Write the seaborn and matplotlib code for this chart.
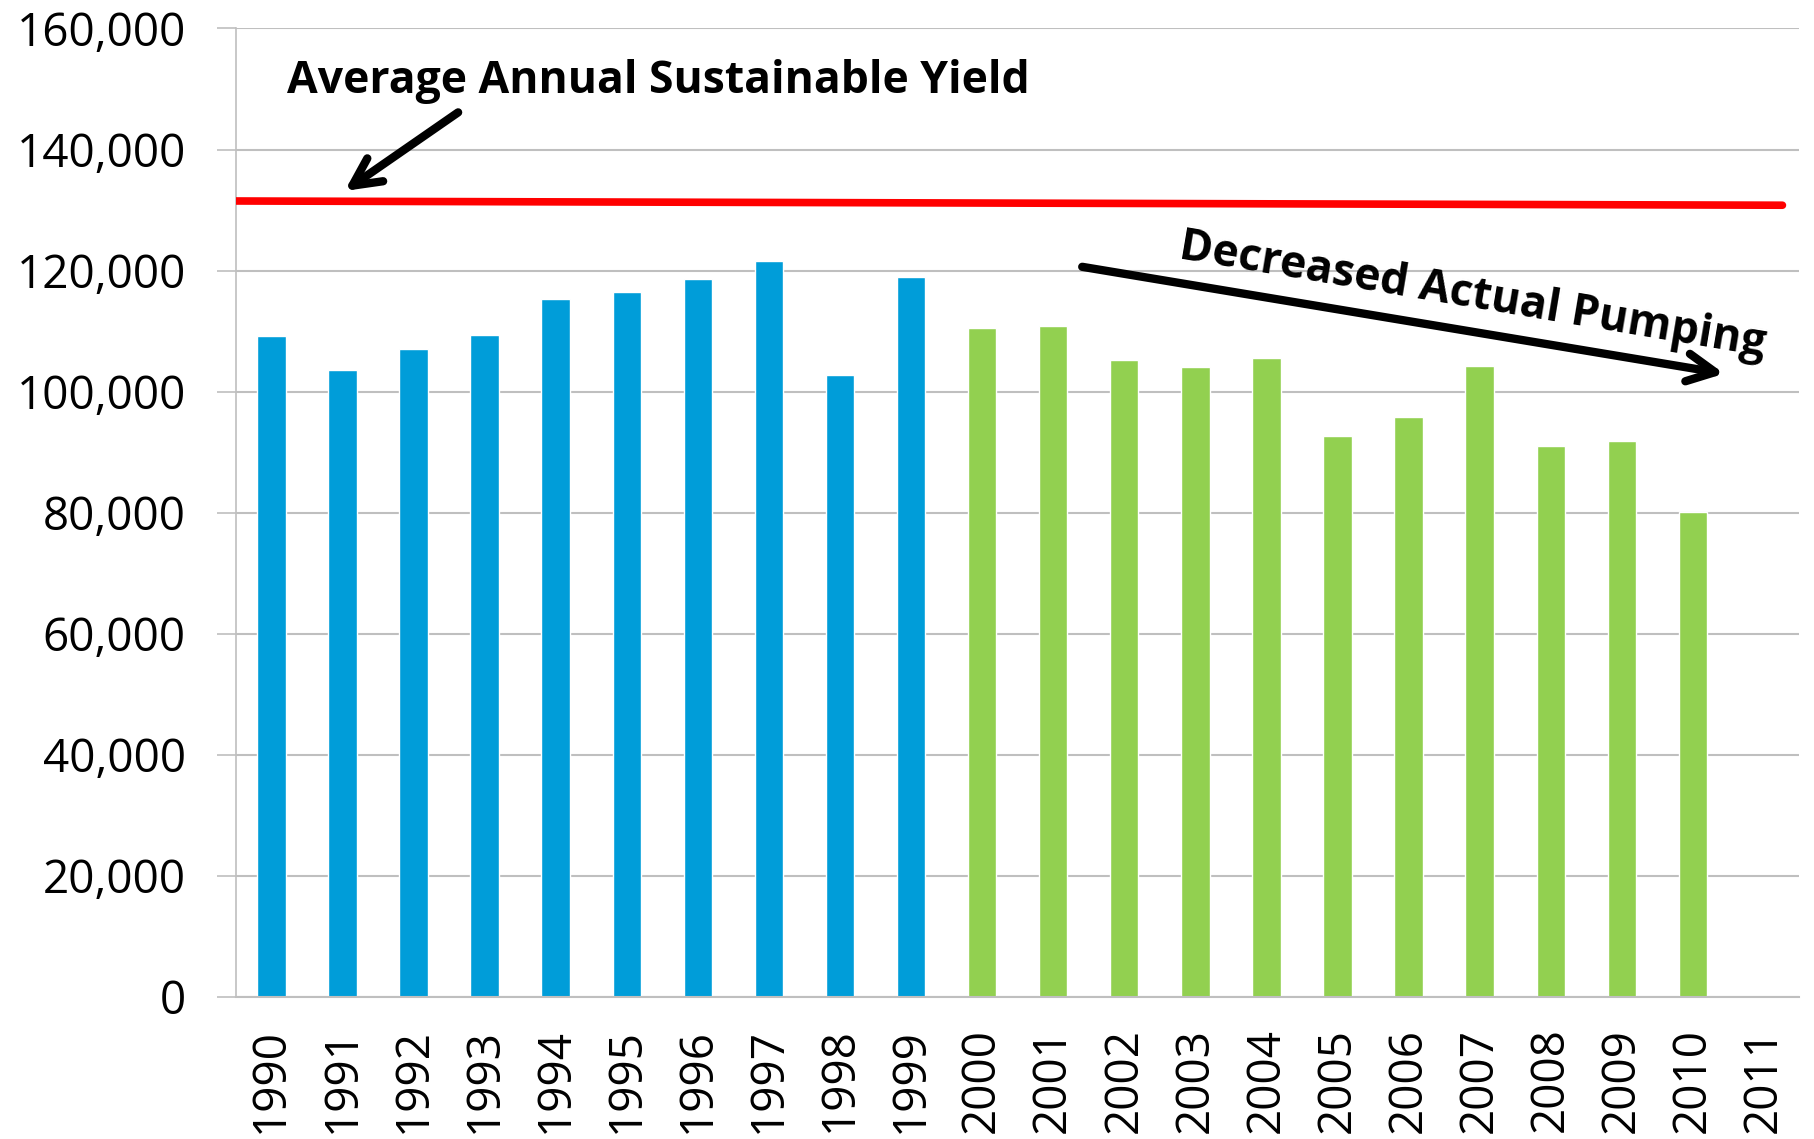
import pandas as pd
import matplotlib.pyplot as plt
import seaborn as sns

# pumping per year
years = [str(y) for y in range(1990, 2012)]
pumped_years = [str(y) for y in range(1990, 2011)]
pumping = [109200, 103500, 107100, 109400, 115300, 116500, 118600, 121600, 102700, 118900,
           110500, 110900, 105200, 104100, 105600, 92600, 95800, 104200, 91100, 91800, 80200]
period = ['1990s'] * 10 + ['2000s'] * 11
yield_level = [131500, 130800]  # sustainable yield, left end and right end
yticks = list(range(0, 160001, 20000))

df = pd.DataFrame({'year': pumped_years, 'pumping': pumping, 'period': period})

sns.set_style('white')
plt.rcParams['font.family'] = ['Open Sans', 'DejaVu Sans']
plt.rcParams['text.color'] = 'black'

fig = plt.figure(figsize=(18.14, 11.39), dpi=100)
ax = fig.add_axes([0.130, 0.1247, 0.862, 0.8503])

sns.barplot(data=df, x='year', y='pumping', hue='period', order=years,
            palette={'1990s': '#009DD9', '2000s': '#92D050'},
            dodge=False, width=0.4, legend=False, ax=ax, saturation=1)

ax.plot([-0.5, 21.26], yield_level, color='#FF0000', lw=5.5, zorder=3)

ax.set_xlim(-0.5, 21.5)
ax.set_ylim(0, 160000)
ax.set_yticks(yticks)
ax.set_yticklabels([f'{v:,}' for v in yticks], fontsize=33)
ax.set_xticks(range(len(years)))
ax.set_xticklabels(years, rotation=90, fontsize=33)
ax.set_xticks([i + 0.5 for i in range(-1, len(years))], minor=True)
ax.tick_params(axis='x', which='major', length=0, pad=22, labelcolor='black')
ax.tick_params(axis='x', which='minor', length=14, width=1.2, color='#BFBFBF')
ax.tick_params(axis='y', length=14, width=1.2, color='#BFBFBF', pad=22, direction='out',
               left=True, labelcolor='black')
ax.set_xlabel('')
ax.set_ylabel('')
ax.grid(axis='y', color='#BFBFBF', lw=1.5)
ax.set_axisbelow(True)
for s in ['top', 'right']:
    ax.spines[s].set_visible(False)
ax.spines['left'].set_color('#BFBFBF')
ax.spines['bottom'].set_color('#BFBFBF')
ax.spines['left'].set_linewidth(1.2)
ax.spines['bottom'].set_linewidth(1.5)

arrow = dict(arrowstyle='->,head_length=2.0,head_width=1.0', lw=6, color='black')
ax.annotate('', xy=(1.0, 132900), xytext=(2.66, 146400), arrowprops=arrow)
ax.text(0.22, 151200, 'Average Annual Sustainable Yield', fontsize=32, fontweight='bold',
        va='center', ha='left', color='black')
ax.annotate('', xy=(20.48, 102900), xytext=(11.37, 120700), arrowprops=arrow)
ax.text(16.9, 115900, 'Decreased Actual Pumping', fontsize=32, fontweight='bold',
        va='center', ha='center', rotation=-9.5, rotation_mode='anchor', color='black')

plt.savefig('out.png', dpi=100)
